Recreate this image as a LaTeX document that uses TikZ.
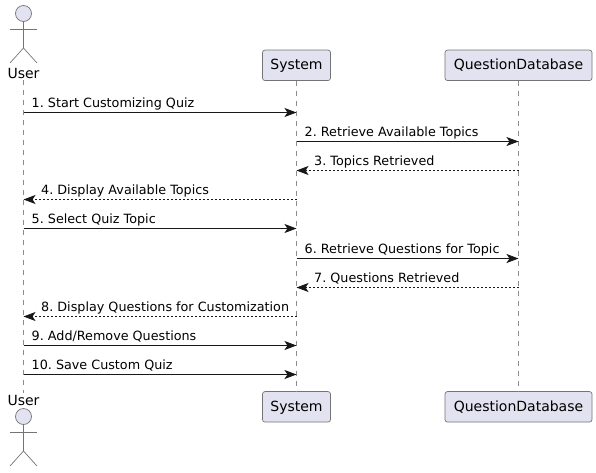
\documentclass[tikz,border=0pt]{standalone}
\usepackage{fontspec}
\setmainfont{DejaVu Sans}
\frenchspacing
\usetikzlibrary{positioning, arrows.meta}

\definecolor{partfill}{HTML}{E2E2F0}
\definecolor{partline}{HTML}{181818}

\begin{document}
\begin{tikzpicture}[
            x=1pt, y=-1pt,
            >={Stealth[length=12pt, width=9pt, inset=3pt]},
            part/.style={rectangle, draw=partline!60, fill=partfill, rounded corners=2.5pt, line width=0.7pt,
                    minimum height=30.5pt, inner xsep=0pt, text height=11pt, text depth=2pt,
                    font=\fontsize{14}{16}\selectfont},
            actorname/.style={inner sep=0pt, font=\fontsize{14}{16}\selectfont},
            actorhead/.style={circle, draw=partline!60, fill=partfill, line width=0.7pt, minimum size=16pt, inner sep=0pt},
            limb/.style={draw=partline!60, line width=0.7pt},
            life/.style={partline!50, line width=0.7pt, dash pattern=on 5pt off 5pt},
            call/.style={->, partline, line width=0.8pt},
            reply/.style={->, partline, line width=0.8pt, dash pattern=on 2pt off 2pt},
            msg/.style={anchor=base west, inner sep=0pt, font=\fontsize{12.75}{15}\selectfont},
            ]
            \useasboundingbox (0,0) rectangle (596,472);

            % participants
            \node[part, minimum width=68pt] (systop) at (296.5,65.3) {System};
            \node[part, minimum width=147pt] (dbtop) at (518.5,65.3) {QuestionDatabase};
            \node[part, minimum width=68pt] (sysbot) at (296.5,406.8) {System};
            \node[part, minimum width=147pt] (dbbot) at (518.5,406.8) {QuestionDatabase};

            % actors
            \node[actorhead] (headtop) at (23.5,13.5) {};
            \coordinate (armtop) at (23.5,29);
            \coordinate (hiptop) at (23.5,48);
            \node[actorname, anchor=base] (usertop) at (23.5,78) {User};
            \draw[limb] (headtop) -- (hiptop);
            \draw[limb] ([xshift=-13.5pt]armtop) -- ([xshift=13.5pt]armtop);
            \draw[limb] (hiptop) -- ++(-13.5,15);
            \draw[limb] (hiptop) -- ++(13.5,15);

            \node[actorname, anchor=base] (userbot) at (23.5,405) {User};
            \node[actorhead] (headbot) at (23.5,416.5) {};
            \coordinate (armbot) at (23.5,432);
            \coordinate (hipbot) at (23.5,451);
            \draw[limb] (headbot) -- (hipbot);
            \draw[limb] ([xshift=-13.5pt]armbot) -- ([xshift=13.5pt]armbot);
            \draw[limb] (hipbot) -- ++(-13.5,15);
            \draw[limb] (hipbot) -- ++(13.5,15);

            % lifelines
            \draw[life] ([yshift=-2pt]usertop.south) -- ([yshift=2pt]userbot.north);
            \draw[life] (systop.south) -- (sysbot.north);
            \draw[life] (dbtop.south) -- (dbbot.north);

            % messages
            \coordinate (m1) at (0,112.5);
            \coordinate (m2) at (0,141.5);
            \coordinate (m3) at (0,170.5);
            \coordinate (m4) at (0,199.5);
            \coordinate (m5) at (0,228.5);
            \coordinate (m6) at (0,258.5);
            \coordinate (m7) at (0,287.5);
            \coordinate (m8) at (0,316.5);
            \coordinate (m9) at (0,345.5);
            \coordinate (m10) at (0,374.5);

            \draw[call] (usertop |- m1) -- (systop |- m1);
            \node[msg] (t1) at ([shift={(8,-5)}]usertop |- m1) {1. Start Customizing Quiz};
            \draw[call] (systop |- m2) -- (dbtop |- m2);
            \node[msg] (t2) at ([shift={(8,-5)}]systop |- m2) {2. Retrieve Available Topics};
            \draw[reply] (dbtop |- m3) -- (systop |- m3);
            \node[msg] (t3) at ([shift={(17.5,-5)}]systop |- m3) {3. Topics Retrieved};
            \draw[reply] (systop |- m4) -- (usertop |- m4);
            \node[msg] (t4) at ([shift={(17.5,-5)}]usertop |- m4) {4. Display Available Topics};
            \draw[call] (usertop |- m5) -- (systop |- m5);
            \node[msg] (t5) at ([shift={(8,-5)}]usertop |- m5) {5. Select Quiz Topic};
            \draw[call] (systop |- m6) -- (dbtop |- m6);
            \node[msg] (t6) at ([shift={(8,-5)}]systop |- m6) {6. Retrieve Questions for Topic};
            \draw[reply] (dbtop |- m7) -- (systop |- m7);
            \node[msg] (t7) at ([shift={(17.5,-5)}]systop |- m7) {7. Questions Retrieved};
            \draw[reply] (systop |- m8) -- (usertop |- m8);
            \node[msg] (t8) at ([shift={(17.5,-5)}]usertop |- m8) {8. Display Questions for Customization};
            \draw[call] (usertop |- m9) -- (systop |- m9);
            \node[msg] (t9) at ([shift={(8,-5)}]usertop |- m9) {9. Add/Remove Questions};
            \draw[call] (usertop |- m10) -- (systop |- m10);
            \node[msg] (t10) at ([shift={(8,-5)}]usertop |- m10) {10. Save Custom Quiz};

        \end{tikzpicture}
\end{document}
